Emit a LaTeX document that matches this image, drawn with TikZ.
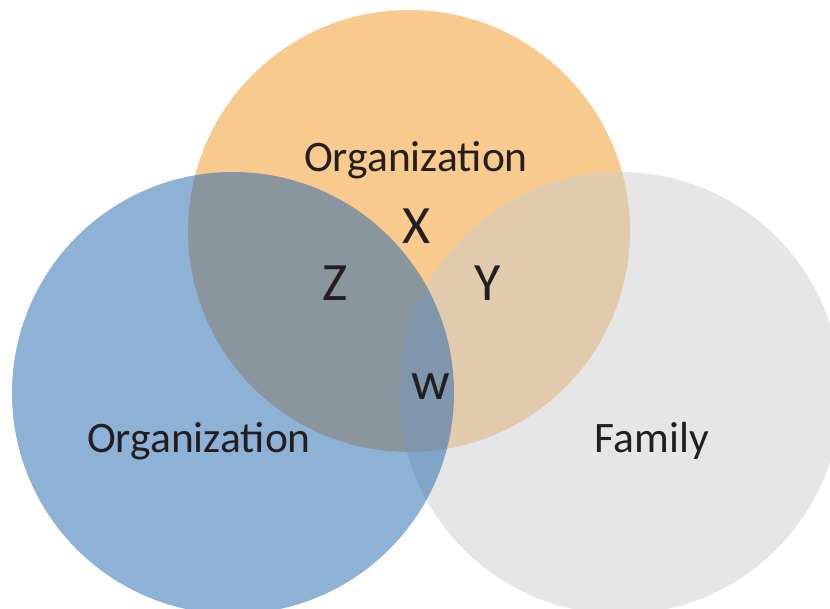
\documentclass[tikz,border=0pt]{standalone}
\usepackage{fontspec}
\setmainfont{Carlito}
\definecolor{orgorange}{RGB}{248,202,142}
\definecolor{famgray}{RGB}{205,205,205}
\definecolor{orgblue}{RGB}{29,99,173}
\definecolor{textdark}{RGB}{35,31,32}
\tikzset{
  venn circle/.style={
    circle,
    draw=none,
    inner sep=0pt,
    minimum size=442pt,
    fill=#1
  },
  set label/.style={
    anchor=base,
    inner sep=0pt,
    text=textdark,
    font=\fontsize{43.5}{50}\selectfont
  },
  region label/.style={
    anchor=base,
    inner sep=0pt,
    text=textdark,
    font=\fontsize{54}{60}\selectfont
  }
}

\begin{document}
\begin{tikzpicture}[x=1pt,y=-1pt]
\useasboundingbox (0,0) rectangle (830,609);
% the three sets, back to front
\node[venn circle=orgorange] (orgtop) at (409,231) {};
\node[venn circle=famgray, fill opacity=0.5] (family) at (620,393) {};
\node[venn circle=orgblue, fill opacity=0.5] (orgleft) at (233,393) {};
% set names
\node[set label] (orgtoplabel) at (416,172) {Organization};
\node[set label] (orgleftlabel) at (199,453) {Organization};
\node[set label] (familylabel) at (652,453) {Family};
% regions
\node[region label] (regx) at (417,244) {X};
\node[region label] (regz) at (335,301) {Z};
\node[region label] (regy) at (488,301) {Y};
\node[region label] (regw) at (431,400) {w};
\end{tikzpicture}
\end{document}
